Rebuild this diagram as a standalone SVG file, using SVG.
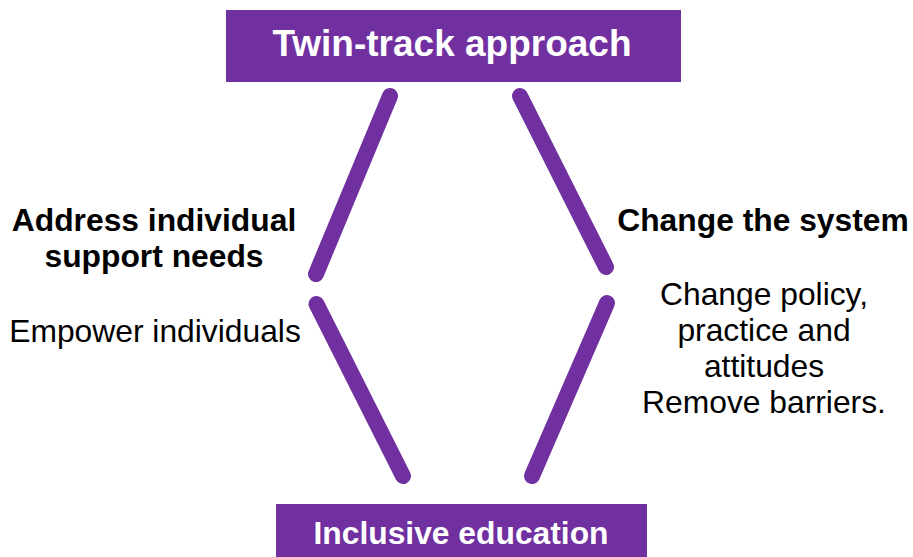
<svg xmlns="http://www.w3.org/2000/svg" width="913" height="557" viewBox="0 0 913 557">
  <style>
    .box { fill: #7030A0; }
    .title { font-family: "Liberation Sans", Arial, sans-serif; font-weight: bold; fill: #FFFFFF; text-anchor: middle; }
    .head { font-family: "Liberation Sans", Arial, sans-serif; font-weight: bold; font-size: 31.8px; fill: #000000; text-anchor: middle; }
    .body { font-family: "Liberation Sans", Arial, sans-serif; font-size: 31.8px; fill: #000000; text-anchor: middle; }
    .track { stroke: #7030A0; stroke-width: 16; stroke-linecap: round; fill: none; }
  </style>
  <rect width="913" height="557" fill="#FFFFFF"/>

  <!-- top node -->
  <g id="twin-track">
    <rect class="box" x="226" y="10" width="455" height="72"/>
    <text class="title" x="452" y="55.5" font-size="37">Twin-track approach</text>
  </g>

  <!-- bottom node -->
  <g id="inclusive-education">
    <rect class="box" x="276" y="504" width="371" height="53"/>
    <text class="title" x="461" y="543.5" font-size="31.8">Inclusive education</text>
  </g>

  <!-- left track label -->
  <g id="individual-track">
    <text class="head" x="154" y="231">Address individual</text>
    <text class="head" x="154" y="267">support needs</text>
    <text class="body" x="155" y="341.5">Empower individuals</text>
  </g>

  <!-- right track label -->
  <g id="system-track">
    <text class="head" x="763" y="231">Change the system</text>
    <text class="body" x="764" y="304.5">Change policy,</text>
    <text class="body" x="764" y="340.5">practice and</text>
    <text class="body" x="764" y="376.5">attitudes</text>
    <text class="body" x="764" y="412.5">Remove barriers.</text>
  </g>

  <!-- connectors forming the two tracks -->
  <g id="connectors">
    <line class="track" x1="390" y1="96" x2="316" y2="274"/>
    <line class="track" x1="316.5" y1="304" x2="403" y2="476"/>
    <line class="track" x1="520" y1="96" x2="606" y2="267"/>
    <line class="track" x1="607" y1="303" x2="532" y2="476"/>
  </g>
</svg>
